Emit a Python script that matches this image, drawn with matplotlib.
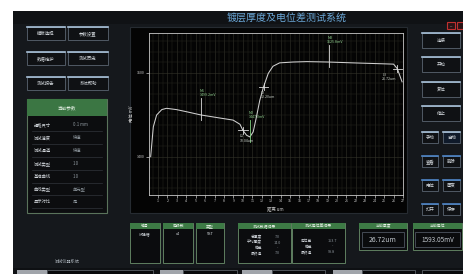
import numpy as np
import matplotlib
matplotlib.use("Agg")
import matplotlib.pyplot as plt
from matplotlib.patches import Rectangle

plt.rcParams['font.family'] = ['Noto Sans CJK SC', 'DejaVu Sans']

W, H = 464, 274

title = "镀层厚度及电位差测试系统"

# potential curve
dist_um = [0.22, 0.5, 0.85, 1.4, 1.9, 2.95, 4.0, 5.6, 7.55, 8.97, 9.7, 10.0,
           10.4, 10.75, 11.1, 11.45, 11.8, 12.2, 12.7, 13.2, 13.9, 15.3, 16.8,
           19.1, 21.7, 24.6, 26.0, 26.4, 26.9]
potential_mv = [1400, 1471, 1499, 1512, 1515, 1512, 1507, 1499, 1492, 1487,
                1477, 1463, 1451, 1447, 1459, 1495, 1534, 1566, 1598, 1615,
                1623, 1625, 1626, 1625, 1623, 1621, 1620, 1609, 1578]

# cursors placed on the curve
cursor_names = ["M1", "L1", "M2", "L2", "M3", "L3"]
cursor_x = [5.6, 10.0, 10.75, 12.2, 19.1, 26.4]
cursor_y = [1499, 1463, 1447, 1566, 1625, 1609]
cursor_text = ["1499.2mV", "10.04um", "1447.0mV", "12.20um", "1625.8mV", "26.72um"]

x_ticks = list(range(1, 28))
y_ticks = [1400, 1600]

left_buttons = [["模板选择", "参数设置"], ["数据维护", "测试历史"], ["测试报告", "系统帮助"]]
param_labels = ["规格尺寸", "测试速度", "测试通道", "测试类型", "基准曲线", "曲线类型", "显示对比"]
param_values = ["0.1 mm", "快速", "快速", "1.0", "1.0", "单元型", "是"]

right_buttons = ["连接", "开始", "复位", "停止"]
right_small = [["手动", "自动"], ["查看", "删除"], ["电位", "厚度"], ["打开", "保存"]]

info_heads = ["编号", "电极数", "类型"]
info_values = ["试验槽", "x4", "5ST"]
thick_labels = ["总厚度", "平均厚度", "偏差", "最终值"]
thick_values = ["7.0", "14.0", "-", "7.0"]
pot_labels = ["电位差", "偏差", "最终值"]
pot_values = ["153.7", "-", "98.8"]
cur_thickness = "26.72um"
cur_potential = "1593.05mV"

fig = plt.figure(figsize=(W / 100, H / 100), dpi=100)
fig.patch.set_facecolor("white")
bg = fig.add_axes([0, 0, 1, 1])
bg.set_xlim(0, W)
bg.set_ylim(H, 0)
bg.axis("off")

TXT = "#d0d5da"


def rect(x, y, w, h, fc, ec="none", lw=0.6, z=1):
    bg.add_patch(Rectangle((x, y), w, h, facecolor=fc, edgecolor=ec, lw=lw, zorder=z))


def button(x, y, w, h, text, top="#a9c2da", fc="#0f1114"):
    rect(x, y, w, h, fc, "#5a6571", 0.6, 2)
    bg.plot([x, x + w], [y, y], color=top, lw=1.2, zorder=3)
    bg.text(x + w / 2, y + h / 2, text, color=TXT, fontsize=3.2,
            ha="center", va="center", zorder=4)


def green_box(x, y, w, h, head, hh=6):
    rect(x, y, w, h, "#0b0c0e", "#5f7f60", 0.7, 2)
    rect(x, y, w, hh, "#3d7a45", "none", 0, 3)
    bg.text(x + w / 2, y + hh / 2, head, color="#e6f0e6", fontsize=2.8,
            ha="center", va="center", zorder=4)


# main window background
rect(13, 11, W - 13, H - 11, "#15181c")
rect(13, 11, W - 13, 13, "#101215")
bg.text(287, 18, title, color="#6aa6d6", fontsize=7.2, ha="center", va="center")
rect(447, 22, 8, 7, "#2a1416", "#c03030", 0.8, 2)
rect(457, 22, 7, 7, "#2a1416", "#c03030", 0.8, 2)
bg.text(451, 25.5, "_", color="#e0e0e0", fontsize=3, ha="center", va="center", zorder=4)

# chart panel
rect(130, 27, 277, 186, "#040404", "#262b31", 0.8)

# left column
for r, row in enumerate(left_buttons):
    by = 27 + r * 25
    button(27, by, 38, 13, row[0])
    button(68, by, 40, 13, row[1])

rect(27, 99, 80, 114, "#0c0d0f", "#5a735b", 0.8, 2)
rect(27, 99, 80, 17, "#3b7643", "none", 0, 3)
bg.text(67, 107.5, "当前参数", color="#e8f2e8", fontsize=3.3, ha="center", va="center", zorder=4)
for i, (lab, val) in enumerate(zip(param_labels, param_values)):
    ry = 125 + i * 12.8
    bg.text(34, ry, lab, color=TXT, fontsize=3.1, va="center", zorder=4)
    bg.text(73, ry, val, color="#8f989f", fontsize=3.1, va="center", zorder=4)
    bg.plot([32, 102], [ry + 6.4, ry + 6.4], color="#30353b", lw=0.5, zorder=3)
bg.text(67, 262, "测试仪器系统", color="#aeb6be", fontsize=3, ha="center", va="center")

# right column
for i, t in enumerate(right_buttons):
    button(422, 33 + i * 24.3, 38, 15, t)
for i, row in enumerate(right_small):
    by = 132 + i * 24
    top = "#a9c2da" if i == 0 else "#4f86c8"
    button(422, by, 16, 11, row[0], top=top)
    button(443, by, 17, 11, row[1], top=top, fc="#0f1a2a" if i == 0 else "#0f1114")

# bottom panels
for i, (hd, val) in enumerate(zip(info_heads, info_values)):
    bx = [130, 163, 196][i]
    bw = [30, 30, 28][i]
    green_box(bx, 223, bw, 40, hd)
    bg.text(bx + bw / 2, 234, val, color=TXT, fontsize=2.8, ha="center", va="center", zorder=4)

green_box(238, 223, 53, 40, "测试数据结果")
for i, (lab, val) in enumerate(zip(thick_labels, thick_values)):
    ly = 237 + i * 5.5
    bg.text(262, ly, lab, color=TXT, fontsize=2.7, ha="right", va="center", zorder=4)
    bg.text(277, ly, val, color="#8f989f", fontsize=2.7, ha="center", va="center", zorder=4)

green_box(292, 223, 53, 40, "测试电位差结果")
for i, (lab, val) in enumerate(zip(pot_labels, pot_values)):
    ly = 241 + i * 5.5
    bg.text(312, ly, lab, color=TXT, fontsize=2.7, ha="right", va="center", zorder=4)
    bg.text(332, ly, val, color="#8f989f", fontsize=2.7, ha="center", va="center", zorder=4)

green_box(359, 223, 48, 27, "当前厚度")
rect(362, 232, 42, 15, "#0a0b0d", "#4d5560", 0.6, 3)
bg.text(383, 240, cur_thickness, color="#c0c6cc", fontsize=5, ha="center", va="center", zorder=4)
green_box(413, 223, 49, 27, "当前电位")
rect(415, 232, 45, 15, "#0a0b0d", "#4d5560", 0.6, 3)
bg.text(437.5, 240, cur_potential, color="#c0c6cc", fontsize=4.6, ha="center", va="center", zorder=4)

# status bar
rect(13, 268, W - 13, 6, "#0e1013")
for tx, tw, fx, fw in [(17, 30, 47, 106), (160, 23, 183, 54), (242, 30, 272, 53), (333, 29, 362, 53)]:
    rect(tx, 269.5, tw, 4.5, "#a0a4aa", "none", 0, 2)
    rect(fx, 269.5, fw, 4.5, "#08090b", "#6a7078", 0.5, 2)
rect(422, 269.5, 42, 4.5, "#08090b", "#6a7078", 0.5, 2)

# the chart itself
ax = fig.add_axes([148.6 / W, 1 - 195 / H, 254.4 / W, 162 / H])
ax.set_facecolor("#040404")
ax.plot(dist_um, potential_mv, color="#d0d0d0", lw=0.75, zorder=3)
ax.set_xlim(0, 27)
ax.set_ylim(1309, 1694)
ax.set_xticks(x_ticks)
ax.set_xticks(np.arange(0, 27.01, 0.5), minor=True)
ax.set_yticks(y_ticks)
ax.set_yticks(np.arange(1325, 1694, 25), minor=True)
ax.grid(True, which="major", color="#34342a", lw=0.4)
ax.grid(True, which="minor", color="#252520", lw=0.35)
ax.tick_params(axis="both", which="major", colors="#c8c8c8", labelsize=2.6,
               length=2, width=0.5, pad=1)
ax.tick_params(axis="both", which="minor", length=0)
for s in ax.spines.values():
    s.set_color("#c8c8c8")
    s.set_linewidth(0.6)
ax.set_xlabel("距离 um", color="#c8c8c8", fontsize=3.2, labelpad=2)
ax.set_ylabel("电位 mV", color="#c8c8c8", fontsize=3.2, labelpad=2)

for name, cx, cy, txt in zip(cursor_names, cursor_x, cursor_y, cursor_text):
    col = "#7fd07f" if name == "M2" else "#dcdcdc"
    tcol = "#8fd08f" if name in ("M2", "M3", "M1") else "#c8d0c8"
    if name.startswith("M"):
        ax.plot([cx, cx], [cy - 12, cy + 40], color=col, lw=0.6, zorder=4)
        ax.text(cx - 0.15, cy + 42, name + "\n" + txt, color=tcol, fontsize=2.6,
                ha="left", va="bottom", linespacing=1.1, zorder=5)
    else:
        ax.plot([cx - 0.5, cx + 0.5], [cy, cy], color=col, lw=0.6, zorder=4)
        ax.plot([cx, cx], [cy - 8, cy + 8], color=col, lw=0.6, zorder=4)
        tx = cx - 1.6 if name == "L3" else cx - 0.3
        ax.text(tx, cy - 10, name + "\n" + txt, color=tcol, fontsize=2.6,
                ha="left", va="top", linespacing=1.1, zorder=5)

fig.savefig("out.png", dpi=100, facecolor=fig.get_facecolor())
